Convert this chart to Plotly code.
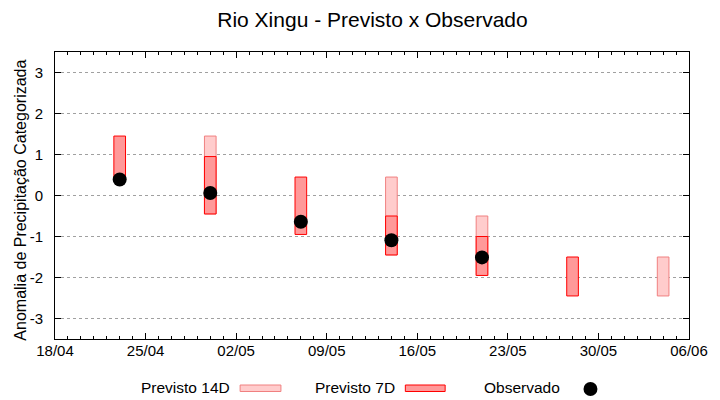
import plotly.graph_objects as go

# ---- data ----
dates = ["2024-04-23", "2024-04-30", "2024-05-07", "2024-05-14",
         "2024-05-21", "2024-05-28", "2024-06-04"]
prev14_low = [None, -0.45, None, -1.45, -1.95, None, -2.45]
prev14_high = [None, 1.45, None, 0.45, -0.50, None, -1.50]
prev7_low = [0.45, -0.45, -0.95, -1.45, -1.95, -2.45, None]
prev7_high = [1.45, 0.95, 0.45, -0.50, -1.00, -1.50, None]
obs_dates = ["2024-04-23", "2024-04-30", "2024-05-07", "2024-05-14", "2024-05-21"]
obs_values = [0.39, 0.06, -0.64, -1.09, -1.51]
ytick_vals = [-3, -2, -1, 0, 1, 2, 3]
ytick_text = ["-3", "-2", "-1", "0", "1", "2", "3"]
x_range = ["2024-04-18", "2024-06-06"]

DAY = 86400000
FONT = "Liberation Sans, Arial, sans-serif"

def spans(lo, hi):
    xs, b, h = [], [], []
    for d, l, u in zip(dates, lo, hi):
        if l is None or u is None:
            continue
        xs.append(d); b.append(l); h.append(u - l)
    return xs, b, h

fig = go.Figure()
x14, b14, h14 = spans(prev14_low, prev14_high)
fig.add_trace(go.Bar(x=x14, y=h14, base=b14, width=[0.9 * DAY] * len(x14),
                     marker=dict(color="#FFCCCC", line=dict(color="#F08080", width=1)),
                     name="Previsto 14D", showlegend=False))
x7, b7, h7 = spans(prev7_low, prev7_high)
fig.add_trace(go.Bar(x=x7, y=h7, base=b7, width=[0.9 * DAY] * len(x7),
                     marker=dict(color="#FF9999", line=dict(color="#FF0000", width=1)),
                     name="Previsto 7D", showlegend=False))
fig.add_trace(go.Scatter(x=obs_dates, y=obs_values, mode="markers",
                         marker=dict(color="black", size=14),
                         name="Observado", showlegend=False))

W, H = 720, 400
L, R, T, B = 55, 28, 52, 61
pw, ph = W - L - R, H - T - B

def px(x):
    return (x - L) / pw

def py(y):
    return (H - B - y) / ph

annotations = [
    dict(text="Anomalia de Precipitação Categorizada", textangle=-90,
         xref="paper", yref="paper", x=px(20), y=py(200.5), xanchor="center",
         yanchor="middle", showarrow=False, font=dict(size=16, family=FONT, color="black")),
]
shapes = []
leg_y = 387
items = [("Previsto 14D", 233, ("rect", 241, 282, "#FFCCCC", "#F08080")),
         ("Previsto 7D", 399, ("rect", 407, 447, "#FF9999", "#FF0000")),
         ("Observado", 564, ("dot", 593))]
for text, xend, sample in items:
    annotations.append(dict(text=text, xref="paper", yref="paper", x=px(xend), y=py(leg_y),
                            xanchor="right", yanchor="middle", showarrow=False,
                            font=dict(size=15.5, family=FONT, color="black")))
    if sample[0] == "rect":
        shapes.append(dict(type="rect", xref="paper", yref="paper",
                           x0=px(sample[1]), x1=px(sample[2]), y0=py(391.5), y1=py(385),
                           fillcolor=sample[3], line=dict(color=sample[4], width=1)))
    else:
        cx = sample[1]
        shapes.append(dict(type="circle", xref="paper", yref="paper",
                           x0=px(cx - 7), x1=px(cx + 7), y0=py(leg_y + 2 + 7), y1=py(leg_y + 2 - 7),
                           fillcolor="black", line=dict(color="black", width=0)))

fig.update_layout(
    width=W, height=H,
    margin=dict(l=L, r=R, t=T, b=B),
    paper_bgcolor="white", plot_bgcolor="white",
    barmode="overlay",
    font=dict(family=FONT, size=15, color="black"),
    title=dict(text="Rio Xingu - Previsto x Observado", x=px(374), xref="paper",
               xanchor="center", y=1 - 20 / H, yanchor="middle",
               font=dict(size=21, family=FONT, color="black")),
    annotations=annotations,
    shapes=shapes,
    showlegend=False,
)
fig.update_xaxes(
    type="date", range=x_range, tick0=x_range[0], dtick=7 * DAY, tickformat="%d/%m",
    ticks="inside", ticklen=6, tickcolor="black", showgrid=False, zeroline=False,
    showline=True, linecolor="black", linewidth=1, mirror="ticks",
    ticklabelstandoff=-2,
    minor=dict(dtick=DAY, ticks="inside", ticklen=3, tickcolor="black", showgrid=False),
    tickfont=dict(size=15, family=FONT, color="black"),
)
fig.update_yaxes(
    range=[-3.5, 3.5], tickvals=ytick_vals, ticktext=ytick_text,
    ticks="inside", ticklen=6, tickcolor="black",
    showgrid=True, gridcolor="#a0a0a0", griddash="dot", gridwidth=1, zeroline=False,
    showline=True, linecolor="black", linewidth=1, mirror="ticks",
    ticklabelstandoff=8,
    tickfont=dict(size=15, family=FONT, color="black"),
)

fig.write_html("out.html", config={"displayModeBar": False},
               post_script="document.body.style.margin='0';document.body.style.overflow='hidden';")
